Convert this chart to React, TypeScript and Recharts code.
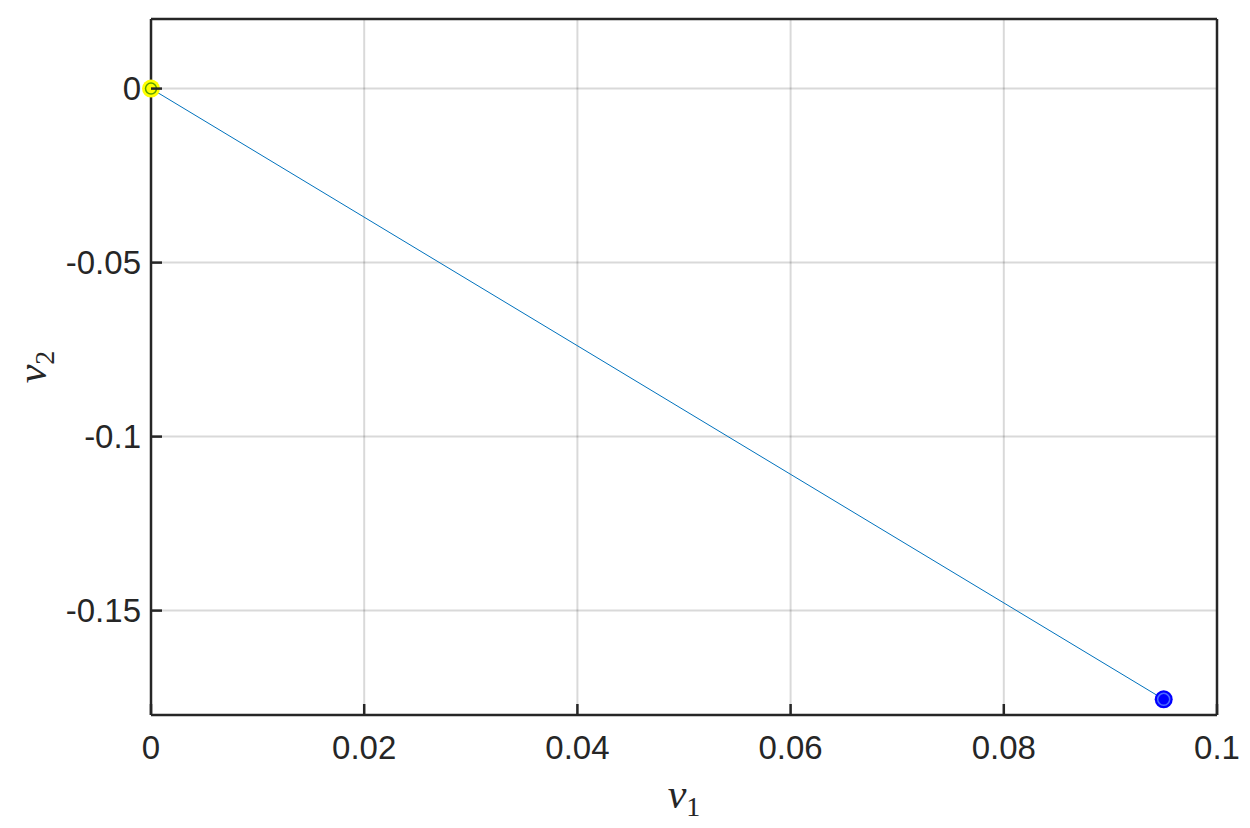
import { ScatterChart, Scatter, XAxis, YAxis, CartesianGrid } from 'recharts'

const v1 = [0, 0.095]
const v2 = [0, -0.1755]
const xTicks = [0, 0.02, 0.04, 0.06, 0.08, 0.1]
const yTicks = [-0.15, -0.1, -0.05, 0]

const path = v1.map((x, i) => ({ x, y: v2[i] }))
const startPt = [path[0]]
const endPt = [path[path.length - 1]]

const axisColor = '#262626'
const TICK_LEN = 11

const fmt = (v: number) => (v === 0 ? '0' : String(Number(v.toFixed(3))))

// MATLAB style: ticks point into the plot box
const bottomTick = ({ x, y, payload }: any) => (
  <g>
    <line x1={x} x2={x} y1={y - 21} y2={y - 21 - TICK_LEN} stroke={axisColor} strokeWidth={2.5} />
    <text x={x} y={y} dy="0.71em" textAnchor="middle" fontFamily="Liberation Sans, Arial" fontSize={33} fill={axisColor}>
      {fmt(payload.value)}
    </text>
  </g>
)

const leftTick = ({ x, y, payload }: any) => (
  <g>
    <line x1={x + 10} x2={x + 10 + TICK_LEN} y1={y} y2={y} stroke={axisColor} strokeWidth={2.5} />
    <text x={x} y={y} dy="0.355em" textAnchor="end" fontFamily="Liberation Sans, Arial" fontSize={33} fill={axisColor}>
      {fmt(payload.value)}
    </text>
  </g>
)

const topTick = ({ x, y }: any) => (
  <line x1={x} x2={x} y1={y} y2={y + TICK_LEN} stroke={axisColor} strokeWidth={2.5} />
)

const rightTick = ({ x, y }: any) => (
  <line x1={x} x2={x - TICK_LEN} y1={y} y2={y} stroke={axisColor} strokeWidth={2.5} />
)

const startMarker = ({ cx, cy }: any) => (
  <g>
    <circle cx={cx} cy={cy} r={9} fill="#ffff00" />
    <circle cx={cx} cy={cy} r={5.5} fill="none" stroke="#5a9e00" strokeWidth={1.5} />
  </g>
)

const endMarker = ({ cx, cy }: any) => (
  <g>
    <circle cx={cx} cy={cy} r={9} fill="#0000ff" />
    <circle cx={cx} cy={cy} r={6} fill="none" stroke="#4d6bff" strokeWidth={1.5} />
  </g>
)

const xLabel = ({ viewBox }: any) => (
  <text x={viewBox.x + viewBox.width / 2} y={viewBox.y + 93} textAnchor="middle" fontFamily="Liberation Serif" fontSize={42} fill={axisColor}>
    <tspan fontStyle="italic">v</tspan>
    <tspan fontSize={28} dy={8}>1</tspan>
  </text>
)

const yLabel = ({ viewBox }: any) => {
  const x = 46
  const y = viewBox.y + viewBox.height / 2
  return (
    <text x={x} y={y} transform={`rotate(-90 ${x} ${y})`} textAnchor="middle" fontFamily="Liberation Serif" fontSize={42} fill={axisColor}>
      <tspan fontStyle="italic">v</tspan>
      <tspan fontSize={28} dy={8}>2</tspan>
    </text>
  )
}

export default function App() {
  return (
    <div style={{ position: 'absolute', left: 0, top: 0, width: 1250, height: 828, background: '#fff' }}>
      <ScatterChart width={1250} height={828} margin={{ top: 0, right: 0, bottom: 0, left: 0 }}>
        {/* translucent grid so the inward tick marks stay visible if the grid paints over them */}
        <CartesianGrid xAxisId="b" yAxisId="l" stroke="#000" strokeOpacity={0.15} strokeWidth={2} />
        <XAxis
          xAxisId="b"
          type="number"
          dataKey="x"
          domain={[0, 0.1]}
          ticks={xTicks}
          interval={0}
          height={113}
          stroke={axisColor}
          strokeWidth={2.5}
          tickSize={0}
          tickMargin={21}
          tickLine={false}
          tick={bottomTick}
          label={{ content: xLabel }}
        />
        <XAxis
          xAxisId="t"
          orientation="top"
          type="number"
          dataKey="x"
          domain={[0, 0.1]}
          ticks={xTicks}
          interval={0}
          height={19}
          stroke={axisColor}
          strokeWidth={2.5}
          tickSize={0}
          tickMargin={0}
          tickLine={false}
          tick={topTick}
        />
        <YAxis
          yAxisId="l"
          type="number"
          dataKey="y"
          domain={[-0.18, 0.02]}
          ticks={yTicks}
          interval={0}
          width={151}
          stroke={axisColor}
          strokeWidth={2.5}
          tickSize={0}
          tickMargin={10}
          tickLine={false}
          tick={leftTick}
          label={{ content: yLabel }}
        />
        <YAxis
          yAxisId="r"
          orientation="right"
          type="number"
          dataKey="y"
          domain={[-0.18, 0.02]}
          ticks={yTicks}
          interval={0}
          width={33}
          stroke={axisColor}
          strokeWidth={2.5}
          tickSize={0}
          tickMargin={0}
          tickLine={false}
          tick={rightTick}
        />
        <Scatter
          xAxisId="b"
          yAxisId="l"
          data={path}
          line={{ stroke: '#0072bd', strokeWidth: 1 }}
          shape={() => <g />}
          isAnimationActive={false}
        />
        <Scatter xAxisId="b" yAxisId="l" data={startPt} shape={startMarker} isAnimationActive={false} />
        <Scatter xAxisId="b" yAxisId="l" data={endPt} shape={endMarker} isAnimationActive={false} />
      </ScatterChart>
    </div>
  )
}
